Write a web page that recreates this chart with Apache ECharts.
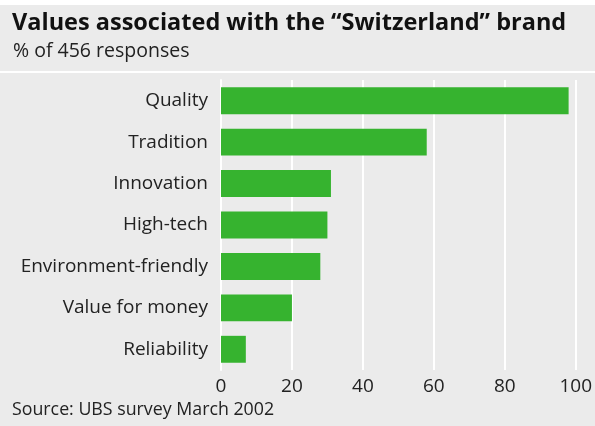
<!DOCTYPE html>
<html><head><meta charset="utf-8">
<script src="https://cdn.jsdelivr.net/npm/echarts@6/dist/echarts.min.js"></script>
<style>html,body{margin:0;padding:0;background:#fff}#c{width:595px;height:426px}</style>
</head><body><div id="c"></div>
<script>
const categories = ["Quality","Tradition","Innovation","High-tech","Environment-friendly","Value for money","Reliability"];
const values = [98, 58, 31, 30, 28, 20, 7];
const xTicks = [0, 20, 40, 60, 80, 100];
const FONT = "Open Sans";
const chart = echarts.init(document.getElementById('c'));
chart.setOption({
  animation: false,
  backgroundColor: '#ffffff',
  graphic: [
    {type:'rect', z:-10, shape:{x:0,y:5,width:595,height:66}, style:{fill:'#ebebeb'}},
    {type:'rect', z:-10, shape:{x:0,y:73,width:595,height:353}, style:{fill:'#ebebeb'}},
    {type:'text', left:12, top:11, style:{text:'Values associated with the \u201cSwitzerland\u201d brand', font:'bold 23.5px "'+FONT+'"', fill:'#111'}},
    {type:'text', left:13, top:41, style:{text:'% of 456 responses', font:'19.5px "'+FONT+'"', fill:'#222'}},
    {type:'text', left:12, top:401, style:{text:'Source: UBS survey March 2002', font:'17.8px "'+FONT+'"', fill:'#222'}}
  ],
  grid: {left:221, right:15, top:80, bottom:56, containLabel:false},
  xAxis: {
    type:'value', min:0, max:100, interval:20,
    axisLine:{show:false}, axisTick:{show:false},
    axisLabel:{color:'#222', fontSize:19, fontFamily:FONT, margin:7,
      formatter: v => xTicks.includes(v) ? String(v) : ''},
    splitLine:{show:true, lineStyle:{color:'#ffffff', width:2}}
  },
  yAxis: {
    type:'category', data:categories, inverse:true,
    axisLine:{show:true, lineStyle:{color:'#ffffff', width:2}}, axisTick:{show:false},
    axisLabel:{color:'#222', fontSize:19, fontFamily:FONT, margin:13}
  },
  series: [{
    type:'bar', data:values, barWidth:'65%',
    itemStyle:{color:'#36b32f'}
  }]
});
</script></body></html>
